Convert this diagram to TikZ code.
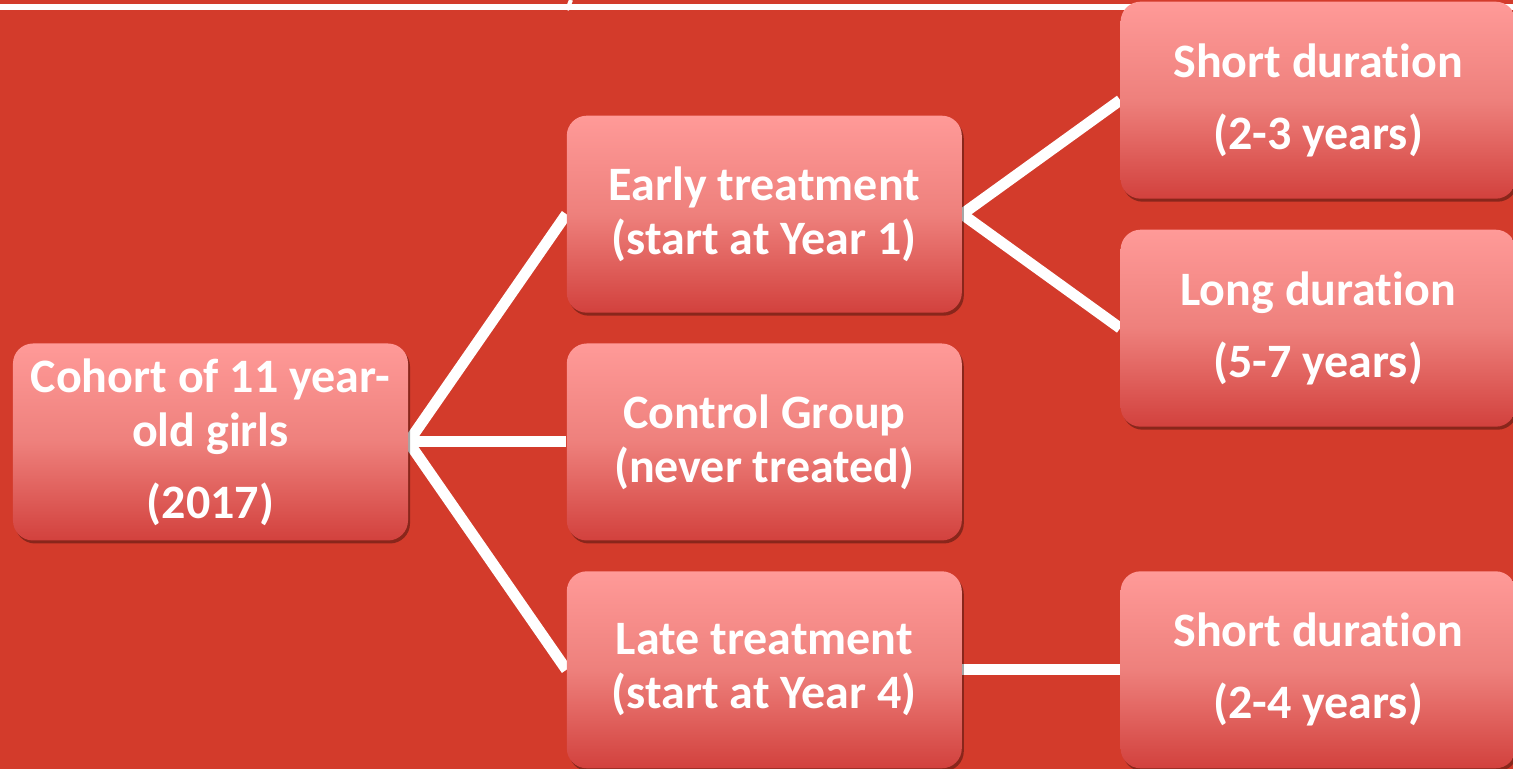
\documentclass[tikz,border=0pt]{standalone}
\usepackage{fontspec}
\setmainfont{Carlito}[Ligatures=NoCommon]
\usetikzlibrary{positioning,backgrounds,shadows}
\definecolor{bgred}{HTML}{D33B2B}
\definecolor{pinktop}{HTML}{FF9A98}
\definecolor{pinkmid}{HTML}{EE807C}
\definecolor{redbot}{HTML}{D2413D}

\begin{document}
\begin{tikzpicture}[node distance=15pt and 79pt]
\tikzset{box/.style={rounded corners=10pt,top color=pinktop,bottom color=redbot,middle color=pinkmid,minimum width=197.5pt,minimum height=98.5pt,align=center,text=white,font=\bfseries\fontsize{24}{27}\selectfont,drop shadow={shadow xshift=1pt,shadow yshift=-1.5pt,opacity=0.35,fill=black}},
link/.style={draw=white,line width=5.5pt}}
\useasboundingbox (-105.25pt,-163.5pt) rectangle (651.25pt,221pt);
\node[box] (cohort) {Cohort of 11 year-\\old girls\\[9pt](2017)};
\node[box,right=of cohort] (control) {Control Group\\(never treated)};
\node[box,above=of control] (early) {Early treatment\\(start at Year 1)};
\node[box,below=of control] (late) {Late treatment\\(start at Year 4)};
\node[box,right=of early,yshift=57pt] (earlyshort) {Short duration\\[9pt](2-3 years)};
\node[box,right=of early,yshift=-57pt] (earlylong) {Long duration\\[9pt](5-7 years)};
\node[box,right=of late] (lateshort) {Short duration\\[9pt](2-4 years)};
\begin{scope}[on background layer]
\fill[bgred] (-105.25pt,-163.5pt) rectangle (651.25pt,221pt);
\draw[white,line width=3.2pt] (-105.25pt,217.5pt) -- (651.25pt,217.5pt);
\draw[white,line width=2pt] (180.25pt,221pt) -- (178.25pt,216pt);
\draw[link] (cohort.east) -- (early.west);
\draw[link] (cohort.east) -- (control.west);
\draw[link] (cohort.east) -- (late.west);
\draw[link] (early.east) -- (earlyshort.west);
\draw[link] (early.east) -- (earlylong.west);
\draw[link] (late.east) -- (lateshort.west);
\end{scope}
\end{tikzpicture}
\end{document}
